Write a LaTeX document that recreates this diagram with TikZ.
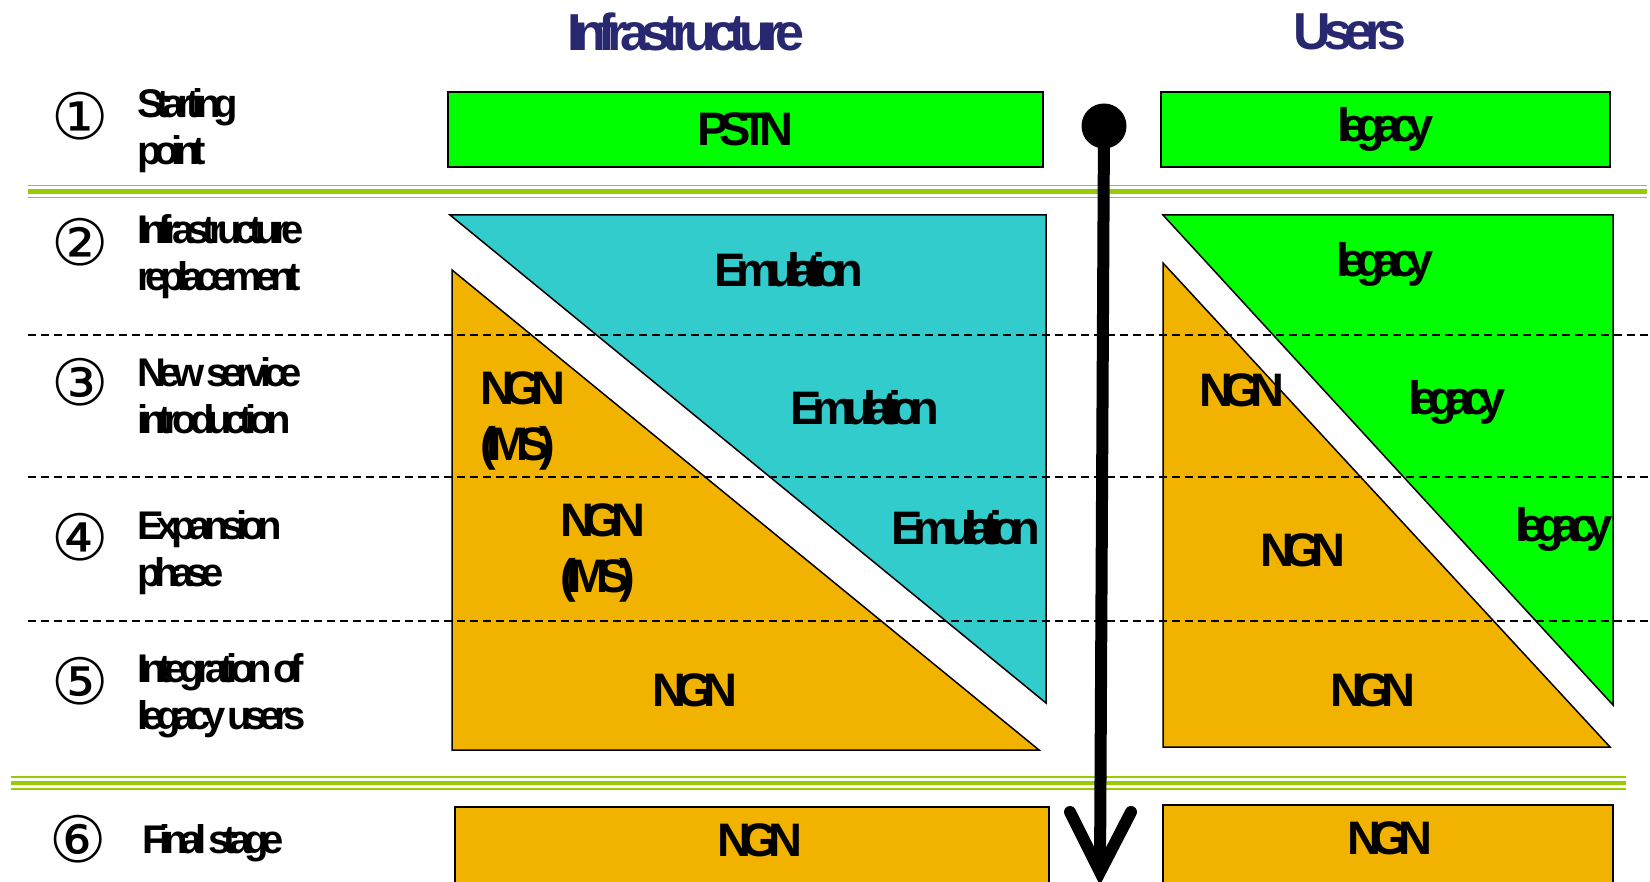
\documentclass[tikz,border=0pt]{standalone}
\usepackage{fontspec}
\setmainfont{Liberation Sans}[LetterSpace=-15]
\newfontfamily\bigfont{Liberation Sans}[LetterSpace=-21]
\newfontfamily\lblfont{Liberation Sans}[LetterSpace=-18, WordSpace=0.4]
\newfontfamily\numfont{DejaVu Sans}
\usetikzlibrary{calc}
\definecolor{limeg}{RGB}{0,255,0}
\definecolor{emul}{RGB}{51,204,204}
\definecolor{ngnc}{RGB}{242,178,0}
\definecolor{sepc}{RGB}{153,204,0}
\definecolor{navyc}{RGB}{40,40,112}
\tikzset{
  shapeline/.style={draw=black, line width=1.5pt},
  dashline/.style={dash pattern=on 8pt off 5pt, line width=1.2pt},
  bigtxt/.style={font=\bigfont\fontsize{47}{56}\selectfont\bfseries, inner sep=0pt},
  ttl/.style={font=\fontsize{52}{60}\selectfont\bfseries, text=navyc, inner sep=0pt},
  lbl/.style={font=\lblfont\fontsize{40}{47}\selectfont\bfseries, align=left, anchor=west, inner sep=0pt},
  num/.style={font=\numfont\fontsize{64}{66}\selectfont, inner sep=0pt},
  boxn/.style={shapeline, bigtxt, inner sep=0pt},
}
\begin{document}
\begin{tikzpicture}[x=1pt,y=-1pt]
\useasboundingbox (0,0) rectangle (1650,882);
% titles
\node[ttl] (t1) at (686,32) {Infrastructure};
\node[ttl] (t2) at (1350,32) {Users};
% step numbers
\node[num] (n1) at (80,116) {①};
\node[num] (n2) at (80,242) {②};
\node[num] (n3) at (80,382) {③};
\node[num] (n4) at (80,537) {④};
\node[num] (n5) at (80,681) {⑤};
\node[num] (n6) at (78,839) {⑥};
% step labels
\node[lbl] (l1) at (137,131) {Starting\\point};
\node[lbl] (l2) at (137,257) {Infrastructure\\replacement};
\node[lbl] (l3) at (137,396) {New service\\introduction};
\node[lbl] (l4) at (137,553) {Expansion\\phase};
\node[lbl] (l5) at (137,696) {Integration of\\legacy users};
\node[lbl] (l6) at (142,843) {Final stage};
% top boxes
\node[boxn, fill=limeg, minimum width=595pt, minimum height=75pt] (pstn) at (745.5,129.5) {PSTN};
\node[boxn, fill=limeg, minimum width=449pt, minimum height=75pt] (leg0) at (1385.5,129.5) {legacy};
% triangles
\filldraw[shapeline, fill=emul] (450,215) -- (1046,215) -- (1046,703) -- cycle;
\filldraw[shapeline, fill=ngnc] (452,270) -- (452,750) -- (1039,750) -- cycle;
\filldraw[shapeline, fill=limeg] (1163,215) -- (1613,215) -- (1613,705) -- cycle;
\filldraw[shapeline, fill=ngnc] (1163,263) -- (1163,747) -- (1610,747) -- cycle;
% bottom boxes
\filldraw[shapeline, fill=ngnc] (455,807) rectangle (1049,900);
\filldraw[shapeline, fill=ngnc] (1163,805) rectangle (1613,900);
% region texts
\node[bigtxt] (e1) at (789,270) {Emulation};
\node[bigtxt] (e2) at (865,408) {Emulation};
\node[bigtxt] (e3) at (966,528) {Emulation};
\node[bigtxt, align=left, anchor=west] (ni1) at (480,421) {NGN\\(IMS)};
\node[bigtxt, align=left, anchor=west] (ni2) at (560,553) {NGN\\(IMS)};
\node[bigtxt] (ng1) at (695,690) {NGN};
\node[bigtxt] (lg1) at (1385,264) {legacy};
\node[bigtxt] (lg2) at (1457,402) {legacy};
\node[bigtxt] (lg3) at (1564,529) {legacy};
\node[bigtxt] (ng2) at (1242,390) {NGN};
\node[bigtxt] (ng3) at (1303,550) {NGN};
\node[bigtxt] (ng4) at (1373,690) {NGN};
\node[bigtxt] (ng5) at (760,840) {NGN};
\node[bigtxt] (ng6) at (1390,838) {NGN};
% dashed row lines
\foreach \yy in {335,477,621} \draw[dashline] (28,\yy) -- (1650,\yy);
% separators
\foreach \yy/\xa/\xb in {191.5/28/1647, 783/10.5/1626} {
  \draw[sepc, line width=1.8pt] (\xa,\yy-6) -- (\xb,\yy-6);
  \draw[sepc, line width=4.5pt] (\xa,\yy) -- (\xb,\yy);
  \draw[sepc, line width=1.8pt] (\xa,\yy+6) -- (\xb,\yy+6);
}
% timeline arrow
\node[circle, fill=black, minimum size=45pt, inner sep=0pt] (dot) at (1104,126) {};
\coordinate (tip) at (1100,872);
\draw[line width=12pt] (dot.center) -- (tip);
\draw[line width=12pt, line cap=round, line join=miter] ($(tip)+(-30,-60)$) -- (tip) -- ($(tip)+(31,-60)$);
\end{tikzpicture}
\end{document}
